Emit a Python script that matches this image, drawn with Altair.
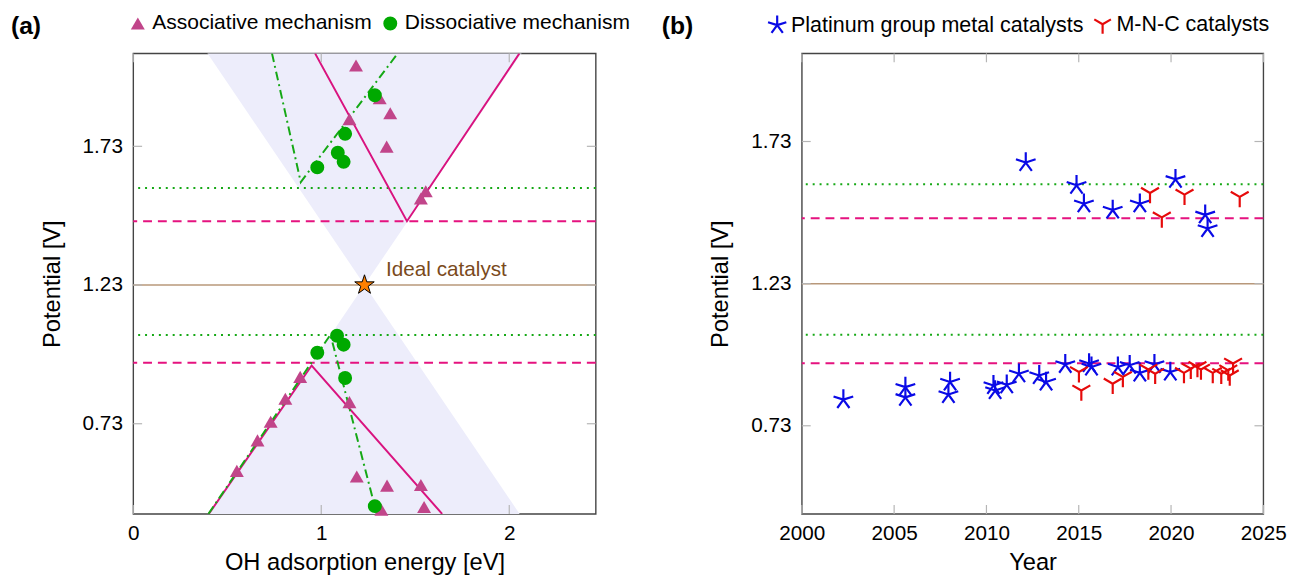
import altair as alt
import pandas as pd

FONT = "Liberation Sans"

# ---------------- panel (a) data ----------------
mech_names = ["Associative mechanism", "Dissociative mechanism"]
assoc_E = [1.185, 1.311, 1.150, 1.367, 1.348, 1.556, 1.530, 0.888, 0.809, 0.731,
           0.661, 0.551, 1.150, 1.189, 1.350, 1.530, 1.547, 1.320]
assoc_V = [2.021, 1.903, 1.828, 1.849, 1.729, 1.568, 1.542, 0.899, 0.820, 0.737,
           0.670, 0.560, 0.808, 0.540, 0.507, 0.509, 0.430, 0.420]
dissoc_E = [1.285, 1.127, 1.088, 1.119, 0.979, 1.084, 1.119, 0.979, 1.127, 1.285]
dissoc_V = [1.914, 1.775, 1.707, 1.674, 1.654, 1.047, 1.015, 0.986, 0.895, 0.433]

assoc_top_E = [0.967, 1.456, 2.054]
assoc_top_V = [2.065, 1.460, 2.065]
assoc_bot_E = [0.402, 0.949, 1.643]
assoc_bot_V = [0.405, 0.940, 0.405]
dis_top_E = [0.738, 0.891, 1.407]
dis_top_V = [2.065, 1.601, 2.065]
dis_bot_E = [0.400, 1.049, 1.295]
dis_bot_V = [0.405, 1.051, 0.405]

shade_E = [0.0, 1.23, 2.46]
shade_up_V = [2.46, 1.23, 2.46]
shade_up_V2 = [2.46, 2.46, 2.46]
shade_dn_V = [0.0, 1.23, 0.0]
shade_dn_V2 = [0.0, 0.0, 0.0]

ideal_E = [1.23]
ideal_V = [1.23]
ideal_text = ["Ideal catalyst"]
ideal_text_E = [1.345]
ideal_text_V = [1.283]

dotted_V = [1.58, 1.05]
dashed_V = [1.46, 0.95]
equil_V = [1.23]

a_xticks = [0, 1, 2]
yticks = [0.73, 1.23, 1.73]
a_xdomain = [0, 2.46]
a_ydomain = [0.405, 2.065]

# ---------------- panel (b) data ----------------
cat_names = ["Platinum group metal catalysts", "M-N-C catalysts"]
pgm_year = [2012.13, 2014.88, 2015.28, 2016.84, 2018.31, 2020.24, 2021.85, 2021.98,
            2002.25, 2005.61, 2005.61, 2008.03, 2007.94, 2010.38, 2010.47, 2011.10,
            2011.76, 2012.86, 2013.23, 2014.27, 2015.56, 2015.69, 2017.12, 2017.76,
            2018.31, 2019.10, 2019.96]
pgm_V = [1.656, 1.576, 1.511, 1.489, 1.511, 1.597, 1.472, 1.424,
         0.822, 0.866, 0.830, 0.884, 0.840, 0.872, 0.854, 0.874,
         0.913, 0.907, 0.884, 0.946, 0.949, 0.937, 0.937, 0.943,
         0.916, 0.946, 0.919]
mnc_year = [2018.86, 2020.73, 2019.50, 2023.72,
            2015.01, 2015.14, 2016.84, 2017.39, 2018.77, 2019.14, 2020.70, 2021.07,
            2021.43, 2021.62, 2022.26, 2022.72, 2023.18, 2023.36, 2023.10]
mnc_V = [1.549, 1.543, 1.463, 1.535,
         0.919, 0.854, 0.878, 0.902, 0.928, 0.913, 0.916, 0.931,
         0.937, 0.928, 0.916, 0.913, 0.907, 0.949, 0.925]

b_xticks = [2000, 2005, 2010, 2015, 2020, 2025]
b_xdomain = [2000, 2025]
b_ydomain = [0.42, 2.04]

panel_labels = ["(a)", "(b)"]

# ---------------- styling ----------------
W_A, W_B, H = 469, 468, 467
TICK = 9
STAR = ("M0,-1L0.2245,-0.309L0.951,-0.309L0.363,0.118L0.588,0.809L0,0.382"
        "L-0.588,0.809L-0.363,0.118L-0.951,-0.309L-0.2245,-0.309Z")
ASTER = ("M0,0L0,-1M0,0L0.951,-0.309M0,0L0.588,0.809M0,0L-0.588,0.809"
         "M0,0L-0.951,-0.309")
MERC = "M0,0L0,1M0,0L-0.866,-0.5M0,0L0.866,-0.5"
PINK = "#e5127f"
GREEN = "#15a815"
TAN = "#b8987a"
SHADE = "#ededfb"
TICKC = "#b5b5b5"


def xenc(domain, values, title):
    return alt.X("E:Q", scale=alt.Scale(domain=domain, nice=False, zero=False),
                 axis=alt.Axis(values=values, format="d", title=title,
                               labelFlush=False, labelPadding=9, titlePadding=7))


def yenc(domain):
    return alt.Y("V:Q", scale=alt.Scale(domain=domain, nice=False, zero=False),
                 axis=alt.Axis(values=yticks, format=".2f", title="Potential [V]",
                               labelPadding=11, titlePadding=18))


def refs(X, Y):
    layers = []
    layers.append(alt.Chart(pd.DataFrame({"V": equil_V})).mark_rule(
        color=TAN, strokeWidth=1.5).encode(y=Y))
    layers.append(alt.Chart(pd.DataFrame({"V": dotted_V})).mark_rule(
        color=GREEN, strokeWidth=2, strokeDash=[2, 5]).encode(y=Y))
    layers.append(alt.Chart(pd.DataFrame({"V": dashed_V})).mark_rule(
        color=PINK, strokeWidth=2, strokeDash=[9, 6]).encode(y=Y))
    return layers


def ticks(X, Y, xt, w):
    dx = pd.DataFrame({"E": xt})
    dy = pd.DataFrame({"V": yticks})
    m = dict(color=TICKC, strokeWidth=1.2)
    return [
        alt.Chart(dx).mark_rule(**m).encode(x=X, y=alt.value(H), y2=alt.value(H - TICK)),
        alt.Chart(dx).mark_rule(**m).encode(x=X, y=alt.value(0), y2=alt.value(TICK)),
        alt.Chart(dy).mark_rule(**m).encode(y=Y, x=alt.value(0), x2=alt.value(TICK)),
        alt.Chart(dy).mark_rule(**m).encode(y=Y, x=alt.value(w - TICK), x2=alt.value(w)),
    ]


def panel_label(i, dx):
    return alt.Chart(pd.DataFrame({"t": [panel_labels[i]]})).mark_text(
        font=FONT, fontSize=25, fontWeight="bold", align="left", baseline="middle",
        color="black").encode(text="t:N", x=alt.value(dx), y=alt.value(-28))


# ---------------- panel (a) ----------------
XA = xenc(a_xdomain, a_xticks, "OH adsorption energy [eV]")
YA = yenc(a_ydomain)

shade_df = pd.DataFrame({
    "E": shade_E + shade_E,
    "V": shade_up_V + shade_dn_V,
    "V2": shade_up_V2 + shade_dn_V2,
    "part": ["up"] * 3 + ["down"] * 3,
})
shade = alt.Chart(shade_df).mark_area(color=SHADE, opacity=1, clip=True).encode(
    x=XA, y=YA, y2="V2:Q", detail="part:N")

assoc_lines = pd.DataFrame({
    "E": assoc_top_E + assoc_bot_E, "V": assoc_top_V + assoc_bot_V,
    "g": ["t"] * 3 + ["b"] * 3}).reset_index()
dis_lines = pd.DataFrame({
    "E": dis_top_E + dis_bot_E, "V": dis_top_V + dis_bot_V,
    "g": ["t"] * 3 + ["b"] * 3}).reset_index()
assoc_l = alt.Chart(assoc_lines).mark_line(color="#d9137f", strokeWidth=2, clip=True).encode(
    x=XA, y=YA, detail="g:N", order="index:Q")
dis_l = alt.Chart(dis_lines).mark_line(
    color=GREEN, strokeWidth=2, strokeDash=[9, 4, 2, 4], clip=True).encode(
    x=XA, y=YA, detail="g:N", order="index:Q")

pts_a = pd.DataFrame({
    "E": assoc_E + dissoc_E, "V": assoc_V + dissoc_V,
    "mech": [mech_names[0]] * len(assoc_E) + [mech_names[1]] * len(dissoc_E)})
leg_a = alt.Legend(orient="none", legendX=-6, legendY=-41, direction="horizontal",
                   title=None, labelFontSize=21.3, labelFont=FONT, symbolSize=200,
                   columnPadding=8, labelOffset=4, labelLimit=500, padding=0)
pts_a_l = alt.Chart(pts_a).mark_point(filled=True, opacity=1, size=200).encode(
    x=XA, y=YA,
    color=alt.Color("mech:N", scale=alt.Scale(domain=mech_names, range=["#c1458a", "#00a900"]),
                    legend=leg_a),
    shape=alt.Shape("mech:N", scale=alt.Scale(domain=mech_names, range=["triangle-up", "circle"]),
                    legend=leg_a),
    order=alt.Order("mech:N", sort="ascending"))

ideal = alt.Chart(pd.DataFrame({"E": ideal_E, "V": ideal_V})).mark_point(
    shape=STAR, filled=True, fill="#ff8000", stroke="black", strokeWidth=1,
    size=430, opacity=1).encode(x=XA, y=YA)
ideal_t = alt.Chart(pd.DataFrame({"E": ideal_text_E, "V": ideal_text_V, "t": ideal_text})).mark_text(
    font=FONT, fontSize=21, color="#7a4a1c", align="left", baseline="middle").encode(
    x=XA, y=YA, text="t:N")

panel_a = alt.layer(
    shade, *refs(XA, YA), assoc_l, dis_l, pts_a_l, ideal, ideal_t,
    *ticks(XA, YA, a_xticks, W_A), panel_label(0, -124)
).properties(width=W_A, height=H)

# ---------------- panel (b) ----------------
XB = xenc(b_xdomain, b_xticks, "Year")
YB = yenc(b_ydomain)
pts_b = pd.DataFrame({
    "E": pgm_year + mnc_year, "V": pgm_V + mnc_V,
    "cat": [cat_names[0]] * len(pgm_year) + [cat_names[1]] * len(mnc_year)})
leg_b = alt.Legend(orient="none", legendX=-36, legendY=-41, direction="horizontal",
                   title=None, labelFontSize=21.8, labelFont=FONT, symbolSize=380,
                   symbolStrokeWidth=2.2, columnPadding=6, labelOffset=3,
                   labelLimit=500, padding=0)
pts_b_l = alt.Chart(pts_b).mark_point(filled=False, opacity=1, size=440, strokeWidth=2.2).encode(
    x=XB, y=YB,
    color=alt.Color("cat:N", scale=alt.Scale(domain=cat_names, range=["#0a0ae6", "#e60a0a"]),
                    legend=leg_b),
    shape=alt.Shape("cat:N", scale=alt.Scale(domain=cat_names, range=[ASTER, MERC]),
                    legend=leg_b))

panel_b = alt.layer(
    *refs(XB, YB), pts_b_l, *ticks(XB, YB, b_xticks, W_B), panel_label(1, -142)
).properties(width=W_B, height=H)

chart = alt.hconcat(panel_a, panel_b, spacing=30).resolve_scale(
    x="independent", y="independent", color="independent", shape="independent"
).resolve_legend(color="independent", shape="independent").properties(
    padding={"left": 2, "top": 0, "right": 0, "bottom": 0}
).configure(font=FONT).configure_view(
    stroke="#444444", strokeWidth=1.4
).configure_axis(
    labelFont=FONT, titleFont=FONT, labelFontSize=21, titleFontSize=24,
    titleFontWeight="normal", labelColor="black", titleColor="black",
    ticks=False, domain=False, grid=False
)

chart.save("out.html", embed_options={"renderer": "svg", "actions": False})
